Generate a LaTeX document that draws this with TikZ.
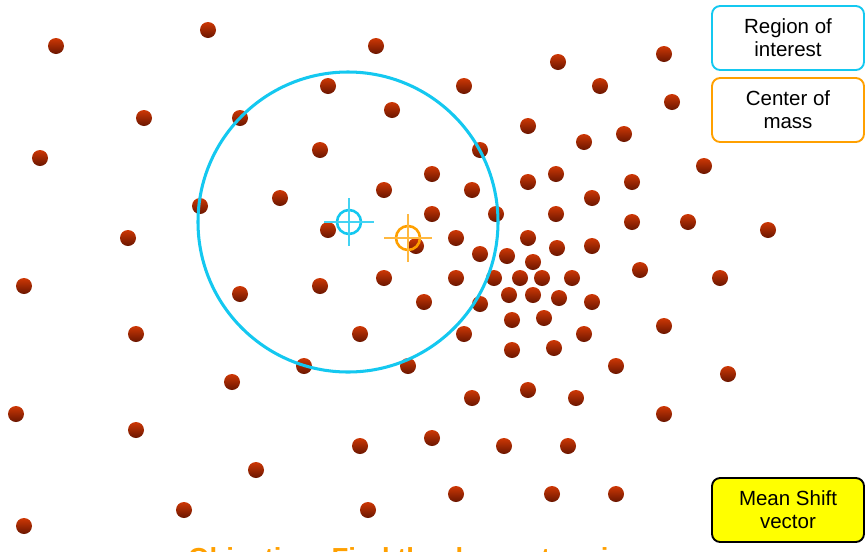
\documentclass[tikz,border=0pt]{standalone}
\usepackage{fontspec}
\setmainfont{Liberation Sans}
\usepackage{tikz}
\usepackage{xcolor}
\usetikzlibrary{positioning}
\definecolor{mscyan}{RGB}{20,200,240}
\definecolor{msorange}{RGB}{255,160,0}
\definecolor{msdotlight}{RGB}{205,55,5}
\definecolor{msdotdark}{RGB}{105,22,0}
\definecolor{msyellow}{RGB}{255,255,0}
\tikzset{
  msdot/.style={circle, minimum size=16*0.03cm, inner sep=0pt, shading angle=45, top color=msdotlight, bottom color=msdotdark},
  msbox/.style={draw, line width=1.6pt, rounded corners=7pt, fill=white, align=center, minimum width=152*0.03cm, minimum height=64*0.03cm, inner sep=0pt, font=\fontsize{17.5}{19.6}\selectfont},
  msroi/.style={draw=mscyan, line width=2.6pt},
  msmark/.style={circle, minimum size=24*0.03cm, inner sep=0pt, line width=2.2pt},
  mshair/.style={line width=1.4pt}
}
\begin{document}
\begin{tikzpicture}[x=0.03cm, y=-0.03cm]
  \clip (0,0) rectangle (865,551);
  \fill[white] (0,0) rectangle (865,551);

  % data points
  \foreach \px/\py [count=\i] in {56/46, 208/30, 376/46, 558/62, 664/54, 464/86, 600/86, 672/102,
      328/86, 392/110, 144/118, 240/118, 528/126, 584/142, 624/134, 40/158, 320/150, 480/150,
      704/166, 432/174, 556/174, 528/182, 632/182, 384/190, 472/190, 280/198, 200/206, 592/198,
      432/214, 496/214, 556/214, 632/222, 688/222, 768/230, 328/230, 128/238, 456/238, 528/238,
      416/246, 557/248, 592/246, 480/254, 507/256, 533/262, 640/270, 384/278, 456/278, 494/278,
      520/278, 542/278, 572/278, 720/278, 24/286, 320/286, 240/294, 509/295, 533/295, 559/298,
      592/302, 424/302, 480/304, 544/318, 512/320, 664/326, 136/334, 360/334, 464/334, 584/334,
      554/348, 512/350, 304/366, 408/366, 616/366, 728/374, 232/382, 528/390, 472/398, 576/398,
      16/414, 664/414, 136/430, 432/438, 360/446, 504/446, 568/446, 256/470, 456/494, 552/494,
      616/494, 184/510, 368/510, 24/526}
    \node[msdot] (d\i) at (\px,\py) {};

  % region of interest
  \node[msroi, circle, minimum size=300*0.03cm, inner sep=0pt] (roi) at (348,222) {};

  % centre of the window
  \node[msmark, draw=mscyan] (wc) at (349,222) {};
  \draw[mshair, mscyan!80] (wc.center) ++(-25,0) coordinate (wl) -- ++(50,0) coordinate (wr);
  \draw[mshair, mscyan!80] (wc.center) ++(0,-24) coordinate (wt) -- ++(0,48) coordinate (wb);

  % centre of mass
  \node[msmark, draw=msorange] (cm) at (408,238) {};
  \draw[mshair, msorange!75] (cm.center) ++(-24,0) coordinate (cl) -- ++(48,0) coordinate (cr);
  \draw[mshair, msorange!75] (cm.center) ++(0,-24) coordinate (ct) -- ++(0,48) coordinate (cb);

  % legend
  \node[msbox, draw=mscyan] (lroi) at (788,38) {Region of\\interest};
  \node[msbox, draw=msorange] (lcm) at (788,110) {Center of\\mass};
  \node[msbox, draw=black, fill=msyellow] (lms) at (788,510) {Mean Shift\\vector};

  \node[anchor=base west, inner sep=0pt, text=msorange, font=\fontsize{23.5}{26}\selectfont\bfseries] (obj) at (188,567) {Objective: Find the densest region};
\end{tikzpicture}
\end{document}
